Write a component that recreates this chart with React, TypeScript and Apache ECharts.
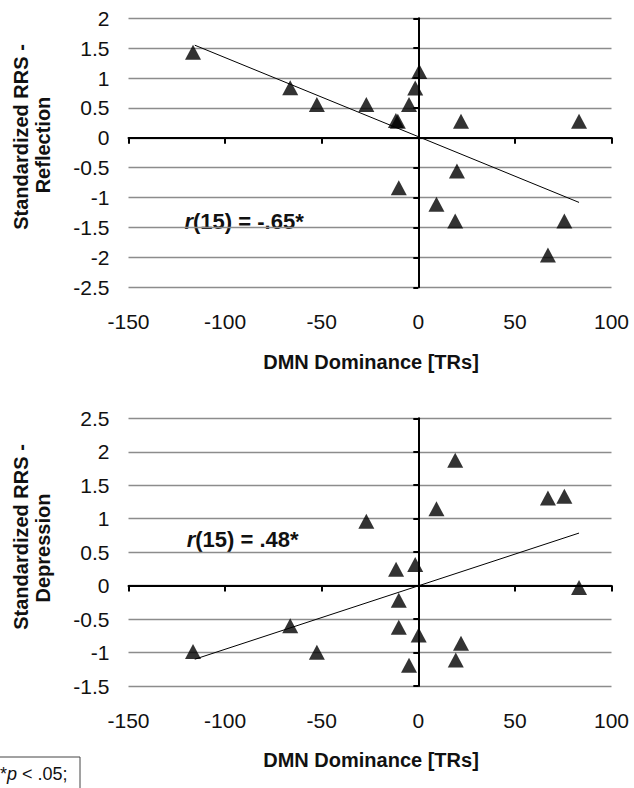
import React, { useEffect, useRef } from "react";
import * as echarts from "echarts";

// ---- Data ----
const reflectionX = [-116.6, -66.3, -52.5, -26.9, -10.6, -11.6, -4.8, -1.6, 0.5, 22.1, 83.2, 20.0, -10.1, 9.4, 19.1, 75.6, 67.1];
const reflectionY = [1.43, 0.84, 0.556, 0.556, 0.278, 0.29, 0.556, 0.833, 1.11, 0.278, 0.278, -0.556, -0.833, -1.11, -1.39, -1.39, -1.96];
const depressionX = [-116.6, -66.3, -52.5, -26.9, -11.5, -1.6, -10.1, -10.1, 0.2, -4.8, 19.1, 9.4, 67.1, 75.6, 83.2, 22.1, 19.4];
const depressionY = [-0.985, -0.6, -0.995, 0.963, 0.244, 0.314, -0.217, -0.623, -0.737, -1.19, 1.875, 1.147, 1.31, 1.335, -0.03, -0.86, -1.11];
const reflectionTrendX = [-115.7, 83.2];
const reflectionTrendY = [1.55, -1.08];
const depressionTrendX = [-115.7, 83.2];
const depressionTrendY = [-1.1, 0.785];
const xRange = [-150, 100];
const reflectionRange = [-2.5, 2];
const depressionRange = [-1.5, 2.5];
const xTitle = "DMN Dominance [TRs]";
const yTitleLine1 = "Standardized RRS -";
const reflectionTitle = "Reflection";
const depressionTitle = "Depression";
const reflectionStat = "-.65*";
const depressionStat = ".48*";
const footnote = " < .05;";

const FONT = "'Liberation Sans', Arial, Helvetica, sans-serif";
const TXT = "#111";
const GRID = "#8c8c8c";

function zip(xs: number[], ys: number[]) {
  return xs.map((x, i) => [x, ys[i]]);
}

function labelX(gridIndex: number) {
  return {
    type: "value", gridIndex, min: xRange[0], max: xRange[1], interval: 50, position: "bottom",
    axisLine: { show: false, onZero: false }, axisTick: { show: false }, splitLine: { show: false },
    axisLabel: { margin: 24, fontSize: 21, color: TXT, fontFamily: FONT, showMinLabel: true, showMaxLabel: true },
  };
}
function zeroX(gridIndex: number) {
  return {
    type: "value", gridIndex, min: xRange[0], max: xRange[1], interval: 50, position: "bottom",
    axisLine: { show: true, onZero: true, lineStyle: { color: "#000", width: 2 } },
    axisTick: { show: true, length: 6, lineStyle: { color: "#000", width: 2 } },
    axisLabel: { show: false }, splitLine: { show: false },
  };
}
function labelY(gridIndex: number, r: number[]) {
  return {
    type: "value", gridIndex, min: r[0], max: r[1], interval: 0.5, position: "left",
    axisLine: { show: false, onZero: false }, axisTick: { show: false },
    splitLine: { show: true, lineStyle: { color: GRID, width: 1.3 } },
    axisLabel: { margin: 19, fontSize: 21, color: TXT, fontFamily: FONT, showMinLabel: true, showMaxLabel: true },
  };
}
function zeroY(gridIndex: number, r: number[]) {
  return {
    type: "value", gridIndex, min: r[0], max: r[1], interval: 0.5, position: "left",
    axisLine: { show: true, onZero: true, lineStyle: { color: "#000", width: 2 } },
    axisTick: { show: true, length: 5, lineStyle: { color: "#000", width: 2 } },
    axisLabel: { show: false }, splitLine: { show: false },
  };
}

function scatter(xi: number, yi: number, data: number[][]) {
  return {
    type: "scatter", xAxisIndex: xi, yAxisIndex: yi, data,
    symbol: "triangle", symbolSize: [16, 15], itemStyle: { color: "#000" }, z: 3,
  };
}
function trend(xi: number, yi: number, data: number[][]) {
  return {
    type: "line", xAxisIndex: xi, yAxisIndex: yi, data, symbol: "none",
    lineStyle: { color: "#000", width: 1 }, z: 4,
  };
}

function title(x: number, y: number, text: string, rot = 0) {
  return {
    type: "text", x, y, rotation: rot,
    style: { text, fontSize: 20, fontWeight: "bold", fontFamily: FONT, fill: TXT, align: "center", verticalAlign: "middle" },
  };
}
function stat(x: number, y: number, value: string) {
  return {
    type: "text", x, y,
    style: {
      text: `{i|r}{b|(15) = ${value}}`, align: "left", verticalAlign: "middle",
      rich: {
        i: { fontSize: 22, fontWeight: "bold", fontStyle: "italic", fontFamily: FONT, fill: TXT },
        b: { fontSize: 22, fontWeight: "bold", fontFamily: FONT, fill: TXT },
      },
    },
  };
}

export default function App() {
  const ref = useRef<HTMLDivElement>(null);
  useEffect(() => {
    if (!ref.current) return;
    const chart = echarts.init(ref.current, undefined, { renderer: "svg" });
    chart.setOption({
      animation: false,
      backgroundColor: "#fff",
      grid: [
        { left: 128.5, top: 18.3, width: 483, height: 269 },
        { left: 128.5, top: 418.3, width: 483, height: 267.7 },
      ],
      xAxis: [labelX(0), zeroX(0), labelX(1), zeroX(1)],
      yAxis: [labelY(0, reflectionRange), zeroY(0, reflectionRange), labelY(1, depressionRange), zeroY(1, depressionRange)],
      series: [
        scatter(0, 0, zip(reflectionX, reflectionY)),
        trend(0, 0, zip(reflectionTrendX, reflectionTrendY)),
        scatter(2, 2, zip(depressionX, depressionY)),
        trend(2, 2, zip(depressionTrendX, depressionTrendY)),
      ],
      graphic: [
        title(21, 137, yTitleLine1, Math.PI / 2),
        title(43, 145, reflectionTitle, Math.PI / 2),
        title(21, 537, yTitleLine1, Math.PI / 2),
        title(43, 548, depressionTitle, Math.PI / 2),
        title(371, 361.5, xTitle),
        title(371, 760, xTitle),
        stat(184.5, 221, reflectionStat),
        stat(186.7, 539, depressionStat),
        {
          type: "rect", shape: { x: -10, y: 757, width: 90, height: 50 },
          style: { fill: "#fff", stroke: "#444", lineWidth: 1 },
        },
        {
          type: "text", x: 0, y: 774,
          style: {
            text: `{n|*}{i|p}{n|${footnote}}`, align: "left", verticalAlign: "middle",
            rich: {
              n: { fontSize: 18, fontFamily: FONT, fill: TXT },
              i: { fontSize: 18, fontStyle: "italic", fontFamily: FONT, fill: TXT },
            },
          },
        },
      ],
    });
    return () => chart.dispose();
  }, []);
  return (
    <div
      ref={ref}
      style={{ position: "absolute", left: 0, top: 0, width: 634, height: 788 }}
    />
  );
}
